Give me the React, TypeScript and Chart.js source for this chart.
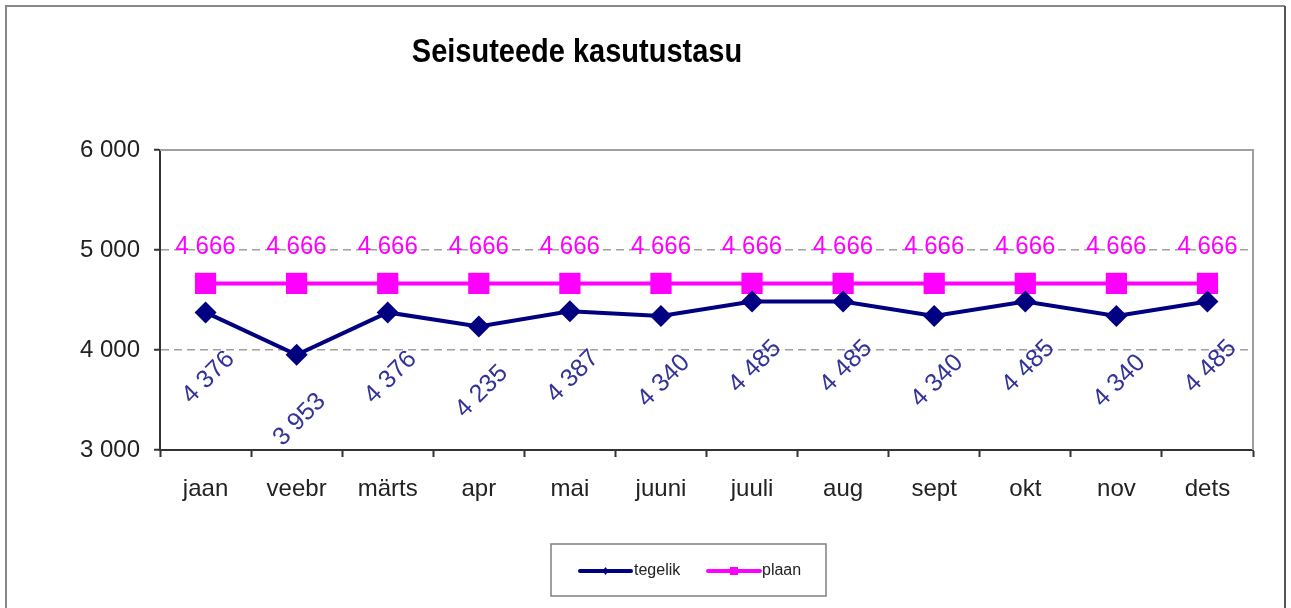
import React, { useEffect, useRef } from "react";
import { Chart, registerables } from "chart.js";

Chart.register(...registerables);

const TITLE = "Seisuteede kasutustasu";
const categories = ["jaan", "veebr", "märts", "apr", "mai", "juuni", "juuli", "aug", "sept", "okt", "nov", "dets"];
const tegelik = [4376, 3953, 4376, 4235, 4387, 4340, 4485, 4485, 4340, 4485, 4340, 4485];
const plaan = [4666, 4666, 4666, 4666, 4666, 4666, 4666, 4666, 4666, 4666, 4666, 4666];
const seriesNames = ["tegelik", "plaan"];
const yMin = 3000;
const yMax = 6000;
const yStep = 1000;

const FONT = "'Liberation Sans', Arial, sans-serif";
const NAVY = "#000080";
const MAGENTA = "#FF00FF";
const LABEL_NAVY = "#333399";

const fmt = (v: number) => {
  const s = Math.round(v).toString();
  return s.replace(/\B(?=(\d{3})+(?!\d))/g, " ");
};

const decorPlugin = {
  id: "decor",
  beforeDraw(chart: any) {
    const { ctx } = chart;
    ctx.save();
    ctx.fillStyle = "#ffffff";
    ctx.fillRect(0, 0, chart.width, chart.height);
    // outer frame
    ctx.strokeStyle = "#888888";
    ctx.lineWidth = 2;
    ctx.beginPath();
    ctx.moveTo(6, 620);
    ctx.lineTo(6, 6);
    ctx.lineTo(1285, 6);
    ctx.stroke();
    ctx.strokeStyle = "#555555";
    ctx.beginPath();
    ctx.moveTo(1285, 6);
    ctx.lineTo(1285, 620);
    ctx.stroke();
    // title
    ctx.fillStyle = "#000000";
    ctx.font = `bold 29px ${FONT}`;
    ctx.textAlign = "center";
    ctx.textBaseline = "middle";
    ctx.translate(577, 53);
    ctx.scale(1, 1.15);
    ctx.fillText(TITLE, 0, 0);
    ctx.restore();
  },
  beforeDatasetsDraw(chart: any) {
    const { ctx, chartArea } = chart;
    ctx.save();
    ctx.strokeStyle = "#a0a0a0";
    ctx.lineWidth = 2;
    ctx.beginPath();
    ctx.moveTo(chartArea.left, chartArea.top);
    ctx.lineTo(chartArea.right, chartArea.top);
    ctx.lineTo(chartArea.right, chartArea.bottom);
    ctx.stroke();
    ctx.restore();
  },
  afterDatasetsDraw(chart: any) {
    const { ctx } = chart;
    ctx.save();
    ctx.font = `24px ${FONT}`;
    ctx.textAlign = "center";
    ctx.textBaseline = "middle";
    // plaan labels
    const m1 = chart.getDatasetMeta(1);
    ctx.fillStyle = MAGENTA;
    m1.data.forEach((pt: any, i: number) => {
      ctx.save();
      ctx.translate(pt.x, pt.y - 37);
      ctx.scale(1, 1.08);
      ctx.fillText(fmt(plaan[i]), 0, 0);
      ctx.restore();
    });
    // tegelik labels rotated
    const m0 = chart.getDatasetMeta(0);
    ctx.fillStyle = LABEL_NAVY;
    m0.data.forEach((pt: any, i: number) => {
      ctx.save();
      ctx.translate(pt.x + 3, pt.y + 65);
      ctx.rotate(-Math.PI / 4);
      ctx.font = `25px ${FONT}`;
      ctx.fillText(fmt(tegelik[i]), 0, 0);
      ctx.restore();
    });
    ctx.restore();
  },
  afterDraw(chart: any) {
    const { ctx } = chart;
    ctx.save();
    // legend box
    ctx.strokeStyle = "#808080";
    ctx.lineWidth = 1.5;
    ctx.strokeRect(551, 544, 275, 52);
    const items = [
      { name: seriesNames[0], color: NAVY, x0: 580, x1: 631, tx: 634, marker: "diamond" },
      { name: seriesNames[1], color: MAGENTA, x0: 708, x1: 760, tx: 762, marker: "square" },
    ];
    items.forEach((it) => {
      ctx.strokeStyle = it.color;
      ctx.fillStyle = it.color;
      ctx.lineWidth = 4;
      ctx.lineCap = "round";
      ctx.beginPath();
      ctx.moveTo(it.x0, 571);
      ctx.lineTo(it.x1, 571);
      ctx.stroke();
      const cx = (it.x0 + it.x1) / 2;
      ctx.beginPath();
      if (it.marker === "diamond") {
        ctx.moveTo(cx, 567);
        ctx.lineTo(cx + 3, 571);
        ctx.lineTo(cx, 575);
        ctx.lineTo(cx - 3, 571);
        ctx.closePath();
        ctx.fill();
      } else {
        ctx.fillRect(cx - 4, 567, 8, 8);
      }
      ctx.fillStyle = "#222222";
      ctx.font = `16px ${FONT}`;
      ctx.textAlign = "left";
      ctx.textBaseline = "middle";
      ctx.fillText(it.name, it.tx, 571);
    });
    ctx.restore();
  },
};

export default function App() {
  const ref = useRef<HTMLCanvasElement | null>(null);
  useEffect(() => {
    document.body.style.margin = "0";
    const canvas = ref.current;
    if (!canvas) return;
    const chart = new Chart(canvas, {
      type: "line",
      data: {
        labels: categories,
        datasets: [
          {
            label: seriesNames[0],
            data: tegelik,
            borderColor: NAVY,
            backgroundColor: NAVY,
            borderWidth: 4,
            pointStyle: "rectRot",
            pointRadius: 11,
            pointBorderWidth: 0,
            pointBackgroundColor: NAVY,
            tension: 0,
          },
          {
            label: seriesNames[1],
            data: plaan,
            borderColor: MAGENTA,
            backgroundColor: MAGENTA,
            borderWidth: 4,
            pointStyle: "rect",
            pointRadius: 15,
            pointBorderWidth: 0,
            pointBackgroundColor: MAGENTA,
            tension: 0,
          },
        ],
      },
      options: {
        animation: false,
        responsive: false,
        devicePixelRatio: 1,
        layout: { padding: { top: 150, right: 38, bottom: 0, left: 0 } },
        plugins: {
          legend: { display: false },
          title: { display: false },
          tooltip: { enabled: false },
        },
        scales: {
          x: {
            type: "category",
            offset: true,
            grid: {
              offset: true,
              drawOnChartArea: false,
              drawTicks: true,
              tickLength: 7,
              tickColor: "#333333",
              tickWidth: 2,
            },
            border: { color: "#333333", width: 2 },
            ticks: {
              color: "#222222",
              font: { family: FONT, size: 24 },
              padding: 18,
              maxRotation: 0,
              autoSkip: false,
            },
            afterFit: (scale: any) => {
              scale.height = 158;
            },
          },
          y: {
            min: yMin,
            max: yMax,
            grid: {
              color: (c: any) => (c.tick && (c.tick.value === 4000 || c.tick.value === 5000) ? "#a0a0a0" : "rgba(0,0,0,0)"),
              lineWidth: 1.5,
              drawTicks: true,
              tickLength: 6,
              tickColor: "#333333",
              tickWidth: 2,
            },
            border: { color: "#333333", width: 2, dash: [8, 5] },
            ticks: {
              stepSize: yStep,
              color: "#222222",
              font: { family: FONT, size: 24 },
              padding: 14,
              callback: (v: any) => fmt(Number(v)),
            },
            afterFit: (scale: any) => {
              scale.width = 160;
            },
          },
        },
      },
      plugins: [decorPlugin],
    });
    return () => chart.destroy();
  }, []);
  return <canvas ref={ref} width={1291} height={608} style={{ display: "block", width: 1291, height: 608 }} />;
}
